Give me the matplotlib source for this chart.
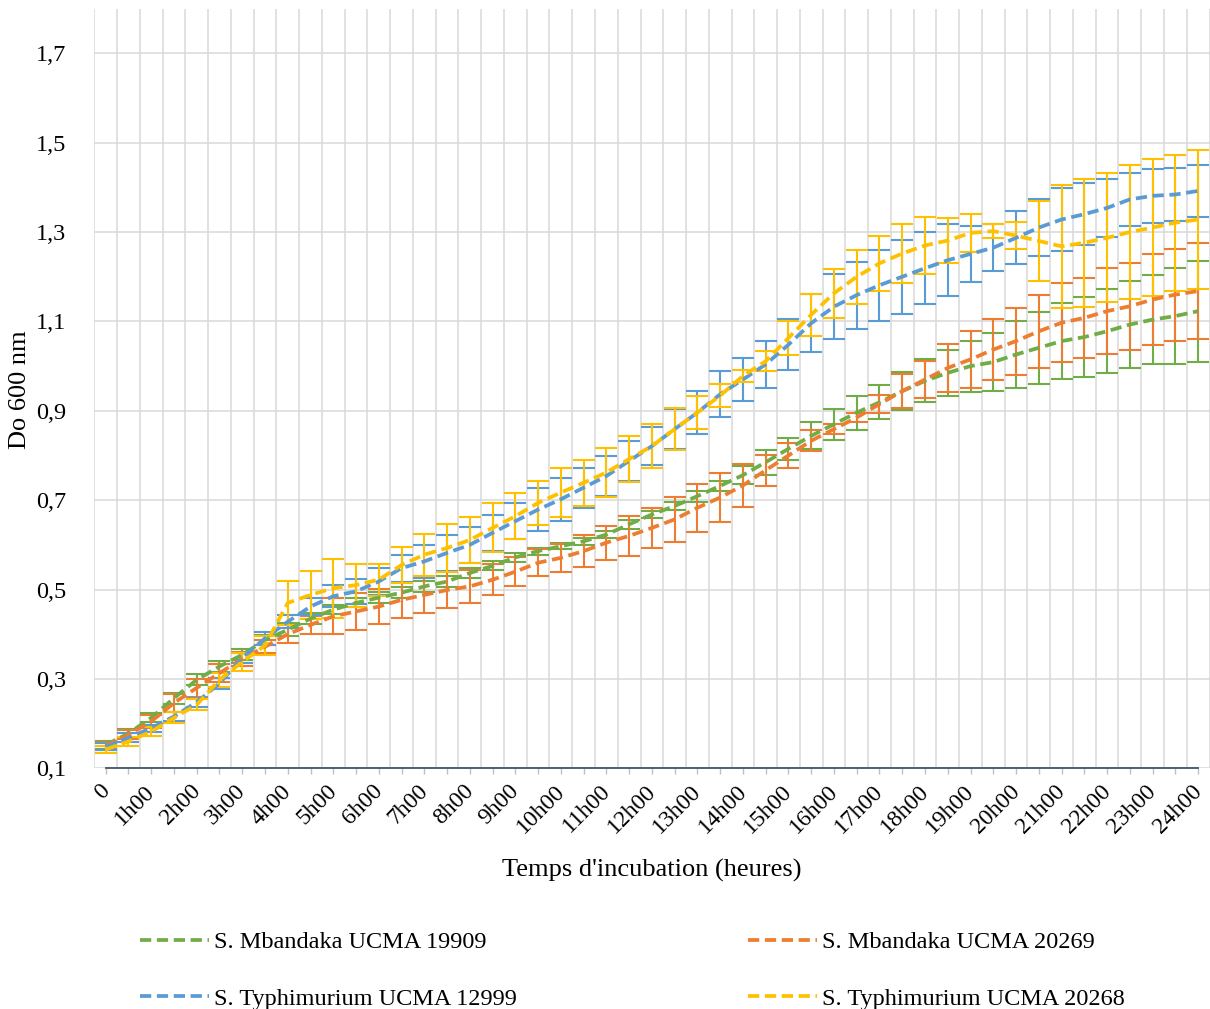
import matplotlib
matplotlib.use("Agg")
import matplotlib.pyplot as plt
import matplotlib.transforms as mtransforms
from matplotlib.lines import Line2D
import numpy as np

plt.rcParams['font.family'] = ['Liberation Serif', 'DejaVu Serif']

# Categories: 0 .. 24h00 every 30 min (labels on the hours)
hours = [i * 0.5 for i in range(49)]
tick_labels = ["0"] + [("%dh00" % int(h)) if h == int(h) else "" for h in hours[1:]]

series_names = ["S. Mbandaka UCMA 19909", "S. Mbandaka UCMA 20269",
                "S. Typhimurium UCMA 12999", "S. Typhimurium UCMA 20268"]
colors = ["#70AD47", "#ED7D31", "#5B9BD5", "#FFC000"]

mbandaka_19909 = [0.152, 0.178, 0.213, 0.257, 0.298, 0.328, 0.354, 0.387, 0.410, 0.435,
                  0.455, 0.470, 0.482, 0.493, 0.507, 0.518, 0.537, 0.553, 0.572, 0.586,
                  0.597, 0.608, 0.623, 0.646, 0.668, 0.687, 0.709, 0.732, 0.756, 0.785,
                  0.815, 0.844, 0.870, 0.896, 0.919, 0.944, 0.967, 0.985, 1.000, 1.009,
                  1.026, 1.041, 1.056, 1.065, 1.078, 1.093, 1.104, 1.112, 1.123]
mbandaka_19909_err = [0.008, 0.010, 0.010, 0.012, 0.012, 0.012, 0.012, 0.012, 0.015, 0.012,
                      0.010, 0.010, 0.012, 0.012, 0.012, 0.012, 0.012, 0.010, 0.010, 0.008,
                      0.007, 0.008, 0.008, 0.010, 0.008, 0.008, 0.012, 0.012, 0.020, 0.028,
                      0.025, 0.030, 0.035, 0.038, 0.038, 0.043, 0.048, 0.052, 0.057, 0.065,
                      0.076, 0.080, 0.085, 0.090, 0.094, 0.098, 0.100, 0.107, 0.113]

mbandaka_20269 = [0.150, 0.175, 0.205, 0.246, 0.280, 0.313, 0.345, 0.372, 0.400, 0.421,
                  0.440, 0.451, 0.462, 0.477, 0.488, 0.499, 0.507, 0.522, 0.540, 0.560,
                  0.571, 0.586, 0.605, 0.620, 0.638, 0.657, 0.683, 0.706, 0.733, 0.767,
                  0.800, 0.833, 0.859, 0.885, 0.915, 0.944, 0.970, 0.996, 1.015, 1.037,
                  1.056, 1.078, 1.097, 1.108, 1.123, 1.134, 1.149, 1.160, 1.168]
mbandaka_20269_err = [0.008, 0.010, 0.015, 0.020, 0.020, 0.020, 0.015, 0.015, 0.020, 0.020,
                      0.040, 0.041, 0.039, 0.040, 0.041, 0.040, 0.037, 0.035, 0.033, 0.030,
                      0.032, 0.035, 0.038, 0.044, 0.045, 0.051, 0.054, 0.054, 0.049, 0.035,
                      0.028, 0.023, 0.012, 0.010, 0.020, 0.038, 0.042, 0.053, 0.063, 0.068,
                      0.075, 0.082, 0.088, 0.090, 0.096, 0.097, 0.101, 0.103, 0.108]

typhimurium_12999 = [0.148, 0.168, 0.190, 0.216, 0.248, 0.290, 0.347, 0.391, 0.428, 0.462,
                     0.485, 0.496, 0.518, 0.548, 0.563, 0.582, 0.600, 0.627, 0.653, 0.679,
                     0.702, 0.728, 0.754, 0.788, 0.821, 0.859, 0.896, 0.937, 0.970, 1.004,
                     1.048, 1.096, 1.133, 1.159, 1.181, 1.200, 1.219, 1.237, 1.251, 1.265,
                     1.287, 1.310, 1.328, 1.340, 1.354, 1.373, 1.381, 1.384, 1.392]
typhimurium_12999_err = [0.008, 0.010, 0.008, 0.010, 0.010, 0.012, 0.012, 0.015, 0.015, 0.020,
                         0.025, 0.028, 0.030, 0.030, 0.037, 0.040, 0.040, 0.040, 0.040, 0.049,
                         0.048, 0.045, 0.045, 0.045, 0.042, 0.045, 0.049, 0.052, 0.048, 0.052,
                         0.057, 0.065, 0.072, 0.075, 0.079, 0.083, 0.081, 0.080, 0.063, 0.053,
                         0.059, 0.064, 0.070, 0.069, 0.064, 0.060, 0.060, 0.059, 0.059]

typhimurium_20268 = [0.142, 0.160, 0.182, 0.213, 0.242, 0.298, 0.338, 0.375, 0.470, 0.488,
                     0.503, 0.510, 0.522, 0.555, 0.578, 0.593, 0.611, 0.638, 0.664, 0.694,
                     0.717, 0.739, 0.762, 0.792, 0.821, 0.859, 0.896, 0.934, 0.978, 1.011,
                     1.063, 1.115, 1.163, 1.200, 1.230, 1.252, 1.270, 1.281, 1.298, 1.302,
                     1.292, 1.280, 1.268, 1.276, 1.287, 1.300, 1.310, 1.321, 1.328]
typhimurium_20268_err = [0.008, 0.010, 0.010, 0.012, 0.012, 0.015, 0.020, 0.022, 0.050, 0.054,
                         0.066, 0.048, 0.036, 0.040, 0.047, 0.053, 0.052, 0.055, 0.052, 0.050,
                         0.054, 0.051, 0.055, 0.051, 0.050, 0.047, 0.036, 0.025, 0.013, 0.023,
                         0.038, 0.047, 0.055, 0.060, 0.061, 0.065, 0.064, 0.050, 0.042, 0.015,
                         0.030, 0.090, 0.137, 0.143, 0.144, 0.150, 0.154, 0.152, 0.155]

values = [mbandaka_19909, mbandaka_20269, typhimurium_12999, typhimurium_20268]
errors = [mbandaka_19909_err, mbandaka_20269_err, typhimurium_12999_err, typhimurium_20268_err]

W, H = 1210, 1009
fig = plt.figure(figsize=(W / 100, H / 100), dpi=100)
ax = fig.add_axes([94.3 / W, 1 - 768.3 / H, (1209.5 - 94.3) / W, (768.3 - 8.6) / H])

x = np.arange(len(hours))
dash = (0, (3.0, 1.5))
for vals, errs, col, name in zip(values, errors, colors, series_names):
    ax.errorbar(x, vals, yerr=errs, fmt='none', ecolor=col, elinewidth=1.5,
                capsize=8, capthick=1.5, zorder=3)
    ax.plot(x, vals, color=col, lw=2.7, linestyle=dash, dash_capstyle='butt',
            zorder=4, label=name)

ax.set_xlim(-0.5, len(hours) - 0.5)
ax.set_ylim(0.1, 1.8)
yt = [0.1, 0.3, 0.5, 0.7, 0.9, 1.1, 1.3, 1.5, 1.7]
ax.set_yticks(yt)
ax.set_yticklabels([("%.1f" % v).replace('.', ',') for v in yt], fontsize=17.5)
ax.set_xticks(x)
ax.set_xticklabels([])
# category labels, drawn at the category positions, slightly shifted left
lab_tr = ax.get_xaxis_transform() + mtransforms.ScaledTranslation(-0.07, -0.125, fig.dpi_scale_trans)
for xi, lab in zip(x, tick_labels):
    if lab:
        ax.text(xi, 0, lab, transform=lab_tr, rotation=45, ha='right', va='top',
                rotation_mode='anchor', fontsize=17, clip_on=False)
ax.set_xticks(np.arange(-0.5, len(hours)), minor=True)
ax.tick_params(axis='x', which='major', length=4, width=1, color='#BFBFBF', pad=5)
ax.tick_params(axis='x', which='minor', length=0)
ax.tick_params(axis='y', length=0, pad=20)
ax.grid(False)
ax.grid(True, axis='x', which='minor', color='#D9D9D9', lw=1.1, zorder=0)
ax.grid(True, axis='y', which='major', color='#D9D9D9', lw=1.1, zorder=0)
ax.set_axisbelow(True)
for s in ax.spines.values():
    s.set_visible(False)
ax.plot([0, len(hours) - 1], [0.1, 0.1], color='#44546A', lw=1.3, zorder=2.5, clip_on=False)

fig.text(652 / W, 1 - 870 / H, "Temps d'incubation (heures)", ha='center', va='center', fontsize=19)
fig.text(20 / W, 1 - 390 / H, "Do 600 nm", ha='center', va='center', rotation=90, fontsize=19)

def handle(col):
    return Line2D([0], [0], color=col, lw=2.7, linestyle=dash, dash_capstyle='butt')

for idxs, xpos in (([0, 2], 140), ([1, 3], 748)):
    leg = fig.legend([handle(colors[i]) for i in idxs], [series_names[i] for i in idxs],
                     loc='upper left', bbox_to_anchor=(xpos / W, 1 - 931 / H),
                     frameon=False, fontsize=17.5, handlelength=2.85, handletextpad=0.2,
                     labelspacing=1.42, borderpad=0, borderaxespad=0)

fig.savefig("out.png", dpi=100)
